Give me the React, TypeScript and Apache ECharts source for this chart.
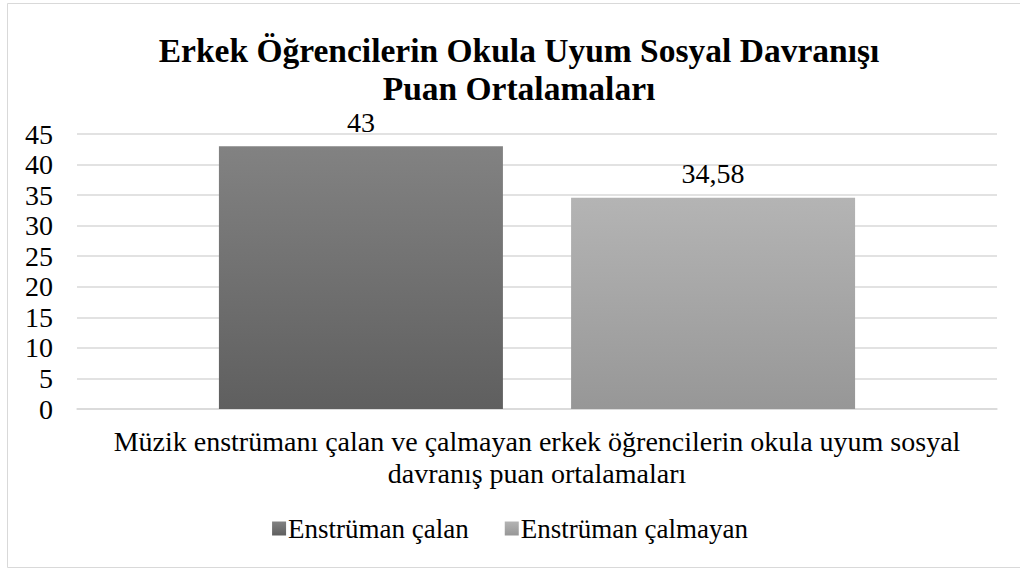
import React, { useEffect, useRef } from "react";
import * as echarts from "echarts";

const titleLines = ["Erkek Öğrencilerin Okula Uyum Sosyal Davranışı", "Puan Ortalamaları"];
const categories = ["Müzik enstrümanı çalan ve çalmayan erkek öğrencilerin okula uyum sosyal\ndavranış puan ortalamaları"];
const seriesNames = ["Enstrüman çalan", "Enstrüman çalmayan"];
const valuesCalan = [43];
const valuesCalmayan = [34.58];
const yTicks = { min: 0, max: 45, interval: 5 };

const FONT = "Liberation Serif";

export default function App() {
  const ref = useRef<HTMLDivElement>(null);
  useEffect(() => {
    const chart = echarts.init(ref.current!, null, { renderer: "svg" });
    const grad = (top: string, bottom: string) =>
      new echarts.graphic.LinearGradient(0, 0, 0, 1, [
        { offset: 0, color: top },
        { offset: 1, color: bottom },
      ]);
    const label = {
      show: true,
      position: "top",
      distance: 10,
      color: "#000",
      fontFamily: FONT,
      fontSize: 28,
      formatter: (p: any) => String(p.value).replace(".", ","),
    };
    chart.setOption({
      animation: false,
      backgroundColor: "#fff",
      textStyle: { fontFamily: FONT },
      title: {
        text: titleLines.join("\n"),
        left: 514,
        textAlign: "center",
        top: 26,
        textStyle: {
          fontFamily: FONT,
          fontWeight: "bold",
          fontSize: 33.5,
          lineHeight: 38,
          color: "#000",
        },
      },
      graphic: [
        {
          type: "rect",
          shape: { x: 7.5, y: 3.5, width: 1013, height: 564 },
          style: { fill: "none", stroke: "#d9d9d9", lineWidth: 1 },
          silent: true,
        },
      ],
      legend: {
        bottom: 22,
        left: "center",
        itemWidth: 14,
        itemHeight: 14,
        itemGap: 36,
        icon: "rect",
        textStyle: { fontFamily: FONT, fontSize: 27, color: "#000", padding: [0, 0, 0, -3] },
        data: seriesNames,
      },
      grid: { left: 77, right: 23, top: 134, bottom: 160, containLabel: false },
      xAxis: {
        type: "category",
        data: categories,
        axisLine: { show: true, lineStyle: { color: "#d9d9d9", width: 1.5 } },
        axisTick: { show: false },
        axisLabel: {
          interval: 0,
          margin: 16,
          color: "#000",
          fontFamily: FONT,
          fontSize: 28,
          lineHeight: 32,
          align: "center",
        },
      },
      yAxis: {
        type: "value",
        min: yTicks.min,
        max: yTicks.max,
        interval: yTicks.interval,
        axisLine: { show: false },
        axisTick: { show: false },
        splitLine: { lineStyle: { color: "#d9d9d9", width: 1.5 } },
        axisLabel: { margin: 24, color: "#000", fontFamily: FONT, fontSize: 28 },
      },
      series: [
        {
          name: seriesNames[0],
          type: "bar",
          data: valuesCalan,
          barWidth: 284,
          barGap: "24%",
          itemStyle: { color: grad("#828282", "#5f5f5f") },
          label,
        },
        {
          name: seriesNames[1],
          type: "bar",
          data: valuesCalmayan,
          barWidth: 284,
          itemStyle: { color: grad("#b4b4b4", "#979797") },
          label,
        },
      ],
    });
    return () => chart.dispose();
  }, []);
  return (
    <div
      ref={ref}
      style={{ position: "absolute", left: 0, top: 0, width: 1020, height: 569 }}
    />
  );
}
